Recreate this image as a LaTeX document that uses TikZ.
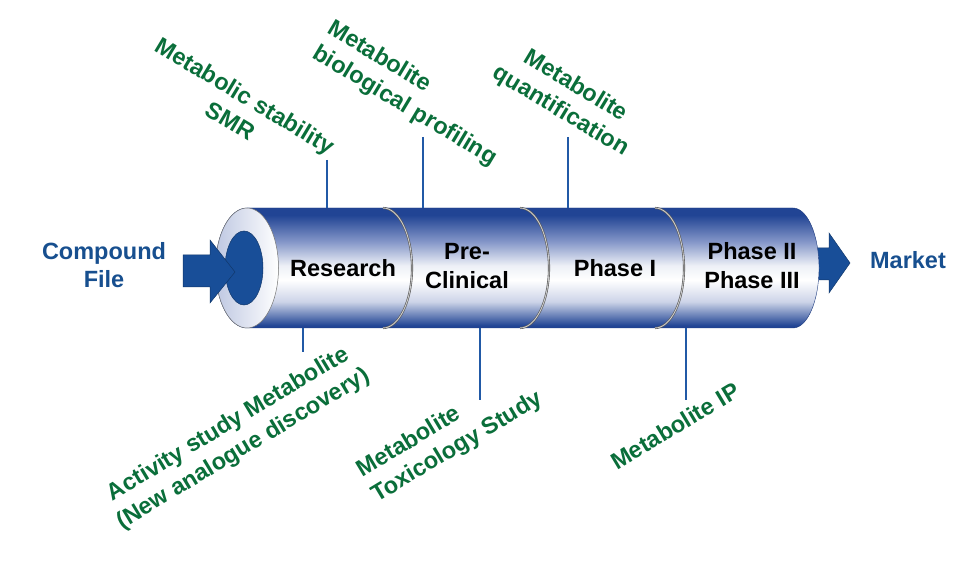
\documentclass[tikz,border=0pt]{standalone}
\usepackage{fontspec}
\setmainfont{Liberation Sans}
\definecolor{cdark}{RGB}{33,68,148}
\definecolor{cmid}{RGB}{132,150,200}
\definecolor{clight}{RGB}{205,212,232}
\definecolor{arrblue}{RGB}{24,78,152}
\definecolor{txtblue}{RGB}{23,79,143}
\definecolor{labgreen}{RGB}{10,110,58}
\definecolor{linblue}{RGB}{33,89,166}
\pgfdeclareverticalshading{cyl}{100bp}{color(0bp)=(cdark); color(26bp)=(cdark); color(36bp)=(clight); color(45bp)=(white); color(51bp)=(white!92!cdark); color(61bp)=(cmid); color(72bp)=(cdark); color(100bp)=(cdark)}
\begin{document}
\begin{tikzpicture}[x=1pt,y=1pt,
  font=\bfseries\fontsize{23.5}{29}\selectfont,
  lab/.style={text=labgreen, inner sep=0pt},
  side/.style={text=txtblue, inner sep=0pt, align=center},
  stage/.style={text=black, inner sep=0pt, align=center},
  tick/.style={draw=linblue, line width=2.8pt},
  seam/.style={draw=black!65, double=black!20, double distance=0.9pt, line width=0.6pt},
  arr/.style={fill=arrblue, draw=arrblue!70!black, line width=0.5pt}]
\useasboundingbox (0,0) rectangle (959,576);
% right arrow (behind cylinder)
\draw[arr] (800,328) -- (829,328) -- (829,343) -- (850,313) -- (829,283) -- (829,296) -- (800,296) -- cycle;
% cylinder body
\path[shading=cyl, draw=cdark!85!black, line width=0.4pt]
  (247,368) -- (793,368) arc[start angle=90, end angle=-90, x radius=26, y radius=60]
  -- (247,248) arc[start angle=270, end angle=90, x radius=31.5, y radius=60] -- cycle;
% seams
\draw[seam] (383,368) arc[start angle=90, end angle=-90, x radius=29, y radius=60];
\draw[seam] (520,368) arc[start angle=90, end angle=-90, x radius=29, y radius=60];
\draw[seam] (655,368) arc[start angle=90, end angle=-90, x radius=29, y radius=60];
% left face
\path[left color=clight!80!cmid, right color=white, draw=black!55, line width=0.5pt]
  (247,308) ellipse[x radius=31.5, y radius=60];
\path[fill=arrblue, draw=arrblue!70!black, line width=0.5pt]
  (244,308) ellipse[x radius=19, y radius=37];
% left arrow
\draw[arr] (183,321) -- (210,321) -- (210,336) -- (235,304) -- (210,273) -- (210,289) -- (183,289) -- cycle;
% stage texts
\node[stage] (research) at (343,308) {Research};
\node[stage] (preclin) at (467,310) {Pre-\\Clinical};
\node[stage] (phase1) at (615,308) {Phase I};
\node[stage] (phase23) at (752,310) {Phase II\\Phase III};
% side texts
\node[side, font=\bfseries\fontsize{23.5}{28}\selectfont] (compound) at (104,311) {Compound\\File};
\node[side] (market) at (908,316) {Market};
% labels
\node[lab, align=center, rotate=-31] (stab) at (238,468) {Metabolic stability\\SMR};
\node[lab, align=left, rotate=-31] (bio) at (412,482) {Metabolite\\biological profiling};
\node[lab, align=center, rotate=-31] (quant) at (568,477) {Metabolite\\quantification};
\node[lab, align=center, rotate=31] (act) at (236,139) {Activity study Metabolite\\(New analogue discovery)};
\node[lab, align=left, rotate=31] (tox) at (450,141) {Metabolite\\Toxicology Study};
\node[lab, rotate=31] (ip) at (675,150) {Metabolite IP};
% connector end points
\coordinate (t1a) at (327,416); \coordinate (t1b) at (327,368);
\coordinate (t2a) at (423,439); \coordinate (t2b) at (423,368);
\coordinate (t3a) at (568,439); \coordinate (t3b) at (568,368);
\coordinate (b1a) at (303,248); \coordinate (b1b) at (303,224);
\coordinate (b2a) at (480,248); \coordinate (b2b) at (480,176);
\coordinate (b3a) at (686,248); \coordinate (b3b) at (686,176);
\draw[tick] (t1a) -- (t1b);
\draw[tick] (t2a) -- (t2b);
\draw[tick] (t3a) -- (t3b);
\draw[tick] (b1a) -- (b1b);
\draw[tick] (b2a) -- (b2b);
\draw[tick] (b3a) -- (b3b);
\end{tikzpicture}
\end{document}
